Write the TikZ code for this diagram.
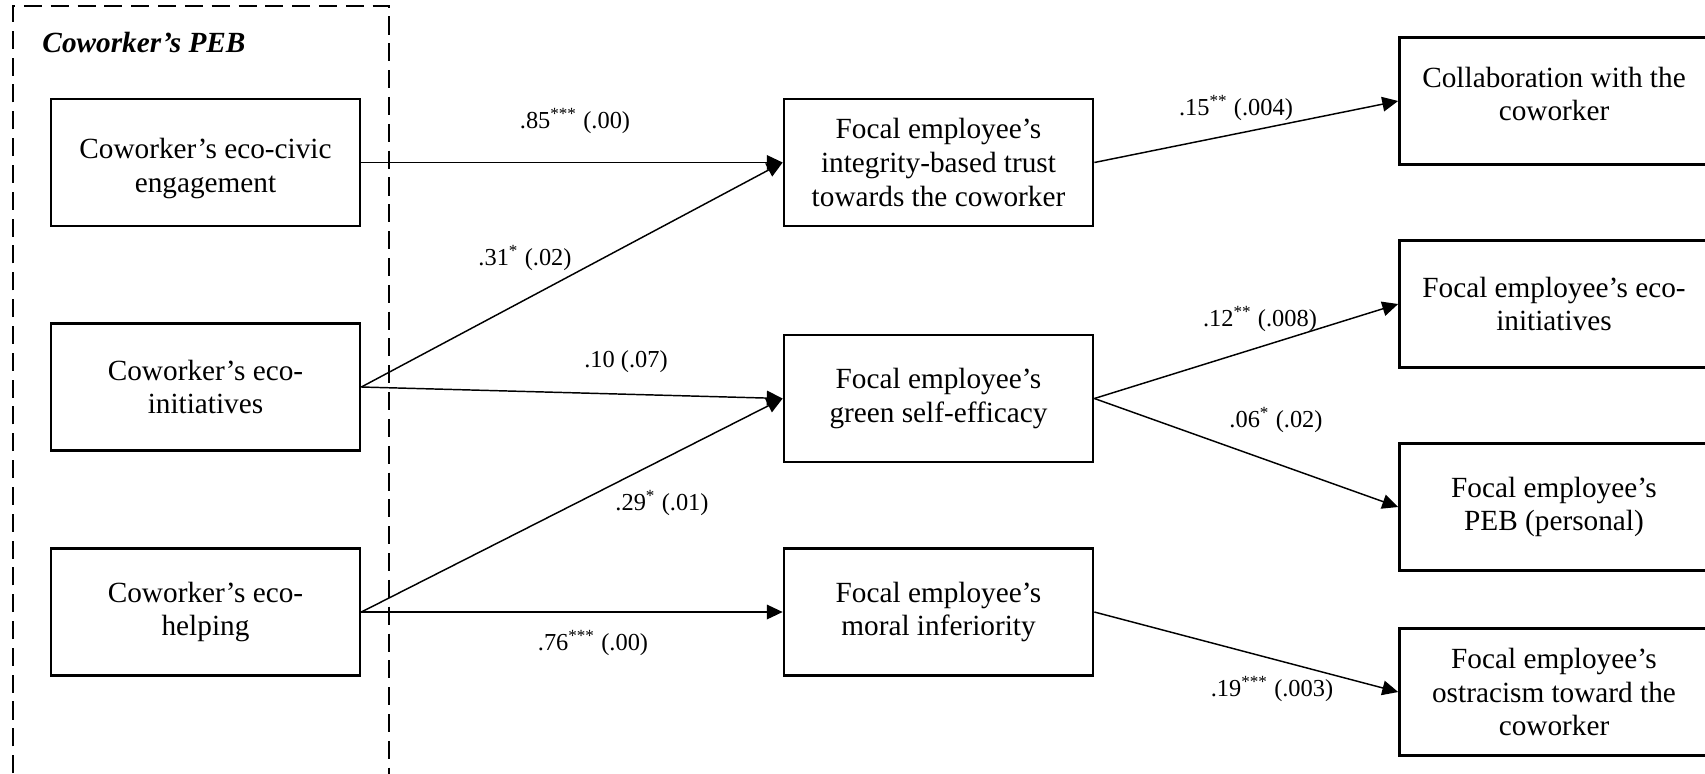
\documentclass[tikz,border=0pt]{standalone}
\usepackage{fontspec}
\setmainfont{Liberation Serif}
\usetikzlibrary{arrows.meta}
\tikzset{
  box/.style={draw, line width=1.1pt, minimum width=126.7pt, minimum height=52pt, inner sep=0pt, align=center, font=\fontsize{12pt}{13.8pt}\selectfont},
  boxtext/.style={inner sep=0pt, align=center, font=\fontsize{12pt}{13.8pt}\selectfont},
  conn/.style={line width=0.6pt, -{Triangle[length=6.5pt,width=6pt]}},
  lbl/.style={font=\fontsize{10pt}{12pt}\selectfont, inner sep=0pt},
  dashbox/.style={line width=1pt, dash pattern=on 7.4pt off 3.6pt}
}
\begin{document}
\begin{tikzpicture}[x=0.41pt,y=-0.41pt]
\useasboundingbox (0,0) rectangle (1705,773);
\draw[dashbox] (13,800) -- (13,6) -- (389,6) -- (389,800);
\node[font=\fontsize{12pt}{13.8pt}\selectfont\bfseries\itshape, anchor=west, inner sep=0pt] (peb) at (42,42) {Coworker’s PEB};
\node[box] (A) at (205.5,162.5) {};
\node[boxtext] (At) at ([yshift=-2.5pt]A.center) {Coworker’s eco-civic\\engagement};
\node[box] (B) at (205.5,387) {Coworker’s eco-\\initiatives};
\node[box] (C) at (205.5,612) {Coworker’s eco-\\helping};
\node[box] (T) at (938.5,162.5) {Focal employee’s\\integrity-based trust\\towards the coworker};
\node[box] (S) at (938.5,398.5) {Focal employee’s\\green self-efficacy};
\node[box] (M) at (938.5,612) {Focal employee’s\\moral inferiority};
\node[box] (Co) at (1554,101) {Collaboration with the\\coworker\\[-8pt]\mbox{}};
\node[box] (FE) at (1554,304) {Focal employee’s eco-\\initiatives};
\node[box] (P) at (1554,507) {Focal employee’s\\PEB (personal)};
\node[box] (O) at (1554,692) {Focal employee’s\\ostracism toward the\\coworker};
\draw[conn] (A.east) -- (T.west);
\draw[conn] (B.east) -- (T.west);
\draw[conn] (B.east) -- (S.west);
\draw[conn] (C.east) -- (S.west);
\draw[conn] (C.east) -- (M.west);
\draw[conn] (T.east) -- (Co.west);
\draw[conn] (S.east) -- (FE.west);
\draw[conn] (S.east) -- (P.west);
\draw[conn] (M.east) -- (O.west);
\node[lbl] (l1) at (575,121) {.85\textsuperscript{***} (.00)};
\node[lbl] (l2) at (525,258) {.31\textsuperscript{*} (.02)};
\node[lbl] (l3) at (626,362) {.10 (.07)};
\node[lbl] (l4) at (662,503) {.29\textsuperscript{*} (.01)};
\node[lbl] (l5) at (593,643) {.76\textsuperscript{***} (.00)};
\node[lbl] (l6) at (1236,108) {.15\textsuperscript{**} (.004)};
\node[lbl] (l7) at (1260,319) {.12\textsuperscript{**} (.008)};
\node[lbl] (l8) at (1276,420) {.06\textsuperscript{*} (.02)};
\node[lbl] (l9) at (1272,689) {.19\textsuperscript{***} (.003)};
\end{tikzpicture}
\end{document}
